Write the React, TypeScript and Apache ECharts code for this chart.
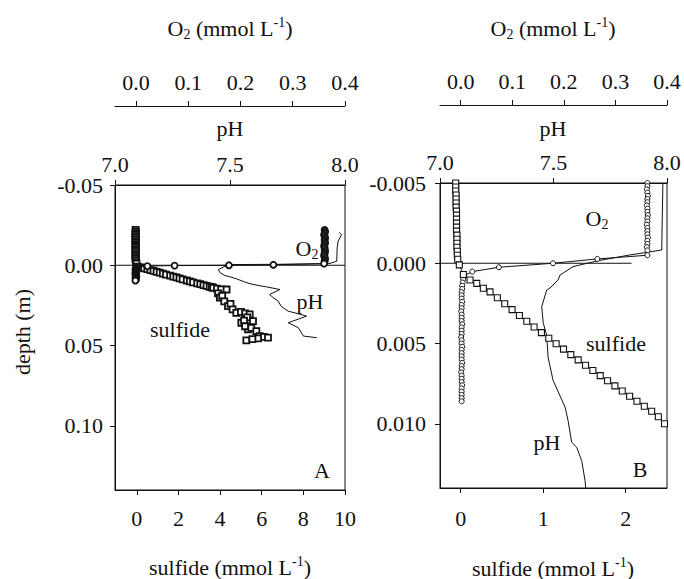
import React, { useEffect, useRef } from 'react';
import * as echarts from 'echarts';

const FONT = 'Liberation Serif';

// ---------- tick values ----------
const sulfideTicksA = [0, 2, 4, 6, 8, 10];
const sulfideTicksB = [0, 1, 2];
const phTicks = [7.0, 7.5, 8.0];
const o2Ticks = [0, 0.1, 0.2, 0.3, 0.4];
const depthTicksA = [-0.05, 0, 0.05, 0.1];
const depthTicksB = [-0.005, 0, 0.005, 0.01];

// ---------- Panel A ----------
const interfaceA_sulfide = [-1.05, 10];
const interfaceA_depth = [0, 0];

const o2A_depth = [-0.022, -0.021, -0.02, -0.019, -0.018, -0.017, -0.016, -0.015, -0.014, -0.013, -0.012, -0.011, -0.01, -0.009, -0.008, -0.007, -0.006, -0.005, -0.004, -0.003, -0.002, -0.001,
  -0.0003, 0.0, 0.0002, 0.0005,
  0.001, 0.0015, 0.002, 0.0025, 0.003, 0.0035, 0.004, 0.0045, 0.005, 0.0055, 0.006, 0.0065, 0.007, 0.0075, 0.008, 0.0085, 0.009, 0.0095];
const o2A_value = [0.361, 0.362, 0.361, 0.36, 0.361, 0.362, 0.361, 0.361, 0.362, 0.361, 0.36, 0.361, 0.361, 0.362, 0.361, 0.361, 0.36, 0.361, 0.362, 0.361, 0.361, 0.36,
  0.263, 0.178, 0.074, 0.022,
  0.003, 0.001, 0.0, -0.001, 0.0, 0.001, 0.0, -0.001, 0.0, 0.0, -0.001, 0.0, 0.001, 0.0, -0.001, 0.0, 0.0, -0.001];

const sulfideA_value = [-0.06, -0.05, -0.07, -0.06, -0.05, -0.06, -0.07, -0.06, -0.05, -0.06, -0.06, -0.07, -0.05, -0.06, -0.06, -0.05, -0.07, -0.06, -0.06, -0.05, -0.04, -0.02,
  0.05, 0.2, 0.35, 0.5, 0.65, 0.8, 0.95, 1.1, 1.25, 1.4, 1.6, 1.75, 1.9, 2.05, 2.2, 2.4, 2.55, 2.7, 2.9, 3.05, 3.2, 3.35, 3.5, 3.6,
  3.67, 3.85, 4.05, 4.31, 3.9, 3.99, 4.1, 4.2, 4.38, 4.5, 4.6, 4.78, 5.0, 5.2, 5.42, 5.3, 5.02, 5.15, 5.58, 5.34, 5.2, 5.5, 5.74, 5.9, 6.1, 6.3, 5.82, 5.26, 5.55];
const sulfideA_depth = [-0.022, -0.021, -0.02, -0.019, -0.018, -0.017, -0.016, -0.015, -0.014, -0.013, -0.012, -0.011, -0.01, -0.009, -0.008, -0.007, -0.006, -0.005, -0.004, -0.003, -0.002, -0.001,
  0.0008, 0.0013, 0.0019, 0.0024, 0.003, 0.0035, 0.0041, 0.0046, 0.0052, 0.0058, 0.0065, 0.0071, 0.0076, 0.0082, 0.0088, 0.0095, 0.01, 0.0106, 0.0113, 0.0118, 0.0124, 0.0129, 0.0134, 0.0137,
  0.014, 0.0145, 0.015, 0.0151, 0.0175, 0.0202, 0.019, 0.0225, 0.0255, 0.024, 0.0275, 0.0296, 0.029, 0.03, 0.0306, 0.0325, 0.0358, 0.0345, 0.0348, 0.0399, 0.038, 0.039, 0.041, 0.0441, 0.0446, 0.0451, 0.0455, 0.0468, 0.046];

const phA_value = [7.975, 7.985, 7.97, 7.966, 7.964, 7.93, 7.7, 7.493, 7.449, 7.458, 7.478, 7.5, 7.529, 7.56, 7.587, 7.63, 7.66, 7.717, 7.672, 7.688, 7.71, 7.722, 7.753, 7.797, 7.833, 7.753, 7.797, 7.819, 7.877];
const phA_depth = [-0.0205, -0.019, -0.015, -0.0108, -0.0025, -0.001, -0.0006, -0.0004, 0.0027, 0.0048, 0.0064, 0.0072, 0.0085, 0.0102, 0.0115, 0.0128, 0.0135, 0.0151, 0.0182, 0.0202, 0.0224, 0.0255, 0.0286, 0.0302, 0.0317, 0.0358, 0.0389, 0.0441, 0.0451];

// ---------- Panel B ----------
const interfaceB_sulfide = [-0.41, 2.07];
const interfaceB_depth = [0, 0];

const o2B_depth = [-0.005, -0.0048, -0.0046, -0.0044, -0.0042, -0.004, -0.0038, -0.0036, -0.0034, -0.0032, -0.003, -0.0028, -0.0026, -0.0024, -0.0022, -0.002, -0.0018, -0.0016, -0.0014, -0.0012, -0.001, -0.0008, -0.0005,
  -0.00027, 0.0, 0.00025, 0.00052,
  0.0008, 0.001, 0.0012, 0.0014, 0.0016, 0.0018, 0.002, 0.0022, 0.0024, 0.0026, 0.0028, 0.003, 0.0032, 0.0034, 0.0036, 0.0038, 0.004, 0.0042, 0.0044, 0.0046, 0.0048, 0.005, 0.0052, 0.0054, 0.0056, 0.0058, 0.006, 0.0062, 0.0064, 0.0066, 0.0068, 0.007, 0.0072, 0.0074, 0.0076, 0.0078, 0.008, 0.0082, 0.0084, 0.0086];
const o2B_value = [0.362, 0.362, 0.361, 0.362, 0.363, 0.362, 0.362, 0.361, 0.362, 0.362, 0.363, 0.362, 0.362, 0.361, 0.362, 0.362, 0.362, 0.363, 0.362, 0.362, 0.361, 0.362, 0.362,
  0.265, 0.179, 0.074, 0.0226,
  0.006, 0.005, 0.004, 0.003, 0.003, 0.002, 0.002, 0.002, 0.003, 0.002, 0.002, 0.001, 0.002, 0.002, 0.002, 0.003, 0.002, 0.002, 0.002, 0.001, 0.002, 0.002, 0.003, 0.002, 0.002, 0.002, 0.002, 0.003, 0.002, 0.002, 0.001, 0.002, 0.002, 0.002, 0.003, 0.002, 0.002, 0.002, 0.002, 0.002];

const sulfideB_value = [-0.06, -0.06, -0.06, -0.055, -0.055, -0.055, -0.055, -0.05, -0.05, -0.05, -0.05, -0.05, -0.05, -0.045, -0.045, -0.045, -0.045, -0.04, -0.04, -0.035,
  -0.016, 0.033, 0.114, 0.195, 0.275, 0.356,
  0.445, 0.534, 0.623, 0.712, 0.801, 0.89, 0.979, 1.068, 1.157, 1.246, 1.335, 1.424, 1.513, 1.602, 1.691, 1.78, 1.869, 1.958, 2.047, 2.136, 2.225, 2.314, 2.395, 2.47];
const sulfideB_depth = [-0.005, -0.00475, -0.0045, -0.00425, -0.004, -0.00375, -0.0035, -0.00325, -0.003, -0.00275, -0.0025, -0.00225, -0.002, -0.00175, -0.0015, -0.00125, -0.001, -0.00075, -0.0005, -0.00025,
  0.0001, 0.0007, 0.00104, 0.00125, 0.00156, 0.00178,
  0.00215, 0.00252, 0.00289, 0.00325, 0.00361, 0.00397, 0.00432, 0.00467, 0.00501, 0.00535, 0.00569, 0.00602, 0.00635, 0.00668, 0.007, 0.00732, 0.00764, 0.00796, 0.00828, 0.0086, 0.00891, 0.00922, 0.00956, 0.01];

const phB_value = [7.982, 7.98, 7.978, 7.977, 7.925, 7.837, 7.69, 7.586, 7.529, 7.52, 7.485, 7.47, 7.448, 7.455, 7.47, 7.476, 7.498, 7.551, 7.564, 7.58, 7.602, 7.624, 7.639, 7.642];
const phB_depth = [-0.005, -0.0035, -0.002, -0.00083, -0.00071, -0.00052, -0.00014, 0.00021, 0.00073, 0.00104, 0.00154, 0.00167, 0.00271, 0.00373, 0.00448, 0.00584, 0.00729, 0.00896, 0.00979, 0.01115, 0.01146, 0.01229, 0.01354, 0.01404];

const zip = (xs: number[], ys: number[]) => xs.map((x, i) => [x, ys[i]]);

const BLACK = '#111';

const baseAxis = (o: any) => ({
  type: 'value',
  axisLine: { show: true, onZero: false, lineStyle: { color: BLACK, width: 1 } },
  axisTick: { show: true, inside: false, length: 5, lineStyle: { color: BLACK, width: 1 }, customValues: o.ticks },
  axisLabel: {
    show: true, color: BLACK, fontFamily: FONT, fontSize: 22, margin: o.margin,
    customValues: o.ticks, formatter: o.fmt,
  },
  splitLine: { show: false },
  ...o.extra,
});

const rich = {
  n: { fontFamily: FONT, fontSize: 22, color: BLACK, lineHeight: 26 },
  sub: { fontFamily: FONT, fontSize: 14, color: BLACK, verticalAlign: 'bottom', lineHeight: 14 },
  sup: { fontFamily: FONT, fontSize: 14, color: BLACK, verticalAlign: 'top', lineHeight: 14 },
};

const txt = (x: number, y: number, text: string, extra: any = {}) => ({
  type: 'text',
  x, y, z: 100,
  ...extra,
  style: {
    text,
    rich,
    fontFamily: FONT,
    fontSize: 22,
    fill: BLACK,
    align: 'center', verticalAlign: 'middle',
    textAlign: 'center', textVerticalAlign: 'middle',
  },
});

const O2_TITLE = '{n|O}{sub|2}{n| (mmol L}{sup|-1}{n|)}';
const SULF_TITLE = '{n|sulfide (mmol L}{sup|-1}{n|)}';
const O2_LABEL = '{n|O}{sub|2}';

const lineSeries = (xi: number, yi: number, data: number[][], extra: any = {}) => ({
  type: 'line', xAxisIndex: xi, yAxisIndex: yi, data,
  symbol: 'none', lineStyle: { color: BLACK, width: 1 }, silent: true,
  ...extra,
});

const option: any = {
  animation: false,
  backgroundColor: '#fff',
  grid: [
    { left: 115, top: 185, width: 230, height: 305, show: true, borderColor: BLACK, borderWidth: 1, backgroundColor: 'transparent' },
    { left: 440, top: 183, width: 227, height: 305, show: true, borderColor: BLACK, borderWidth: 1, backgroundColor: 'transparent' },
  ],
  xAxis: [
    baseAxis({ ticks: sulfideTicksA, margin: 17, fmt: (v: number) => String(v), extra: { gridIndex: 0, position: 'bottom', min: -1.05, max: 10 } }),
    baseAxis({ ticks: phTicks, margin: 10, fmt: (v: number) => v.toFixed(1), extra: { gridIndex: 0, position: 'top', min: 7, max: 8 } }),
    baseAxis({ ticks: o2Ticks, margin: 13, fmt: (v: number) => v.toFixed(1), extra: { gridIndex: 0, position: 'top', offset: 79, min: -0.04, max: 0.4 } }),
    baseAxis({ ticks: sulfideTicksB, margin: 19, fmt: (v: number) => String(v), extra: { gridIndex: 1, position: 'bottom', min: -0.25, max: 2.5 } }),
    baseAxis({ ticks: phTicks, margin: 10, fmt: (v: number) => v.toFixed(1), extra: { gridIndex: 1, position: 'top', min: 7, max: 8 } }),
    baseAxis({ ticks: o2Ticks, margin: 13, fmt: (v: number) => v.toFixed(1), extra: { gridIndex: 1, position: 'top', offset: 78, min: -0.04, max: 0.4 } }),
  ],
  yAxis: [
    baseAxis({ ticks: depthTicksA, margin: 12, fmt: (v: number) => v.toFixed(2), extra: { gridIndex: 0, position: 'left', inverse: true, min: -0.05, max: 0.14 } }),
    baseAxis({ ticks: depthTicksB, margin: 14, fmt: (v: number) => v.toFixed(3), extra: { gridIndex: 1, position: 'left', inverse: true, min: -0.005, max: 0.014 } }),
  ],
  series: [
    // Panel A
    lineSeries(0, 0, zip(interfaceA_sulfide, interfaceA_depth)),
    lineSeries(1, 0, zip(phA_value, phA_depth)),
    {
      type: 'scatter', xAxisIndex: 0, yAxisIndex: 0, data: zip(sulfideA_value, sulfideA_depth),
      symbol: 'rect', symbolSize: 6, silent: true,
      itemStyle: { color: '#fff', borderColor: BLACK, borderWidth: 1.8, opacity: 1 },
    },
    lineSeries(2, 0, zip(o2A_value, o2A_depth), {
      symbol: 'circle', symbolSize: 6, showSymbol: true,
      itemStyle: { color: '#fff', borderColor: BLACK, borderWidth: 1.8 },
    }),
    // Panel B
    lineSeries(3, 1, zip(interfaceB_sulfide, interfaceB_depth), { clip: false }),
    lineSeries(4, 1, zip(phB_value, phB_depth)),
    lineSeries(5, 1, zip(o2B_value, o2B_depth), {
      symbol: 'circle', symbolSize: 5, showSymbol: true,
      itemStyle: { color: '#fff', borderColor: BLACK, borderWidth: 1 },
    }),
    lineSeries(3, 1, zip(sulfideB_value, sulfideB_depth), {
      symbol: 'rect', symbolSize: 6, showSymbol: true,
      itemStyle: { color: '#fff', borderColor: BLACK, borderWidth: 1.1 },
    }),
  ],
  graphic: [
    txt(230, 28, O2_TITLE),
    txt(553, 28, O2_TITLE),
    txt(230, 128, 'pH'),
    txt(553, 128, 'pH'),
    txt(230, 567, SULF_TITLE),
    txt(553, 568, SULF_TITLE),
    txt(22, 332, 'depth (m)', { rotation: Math.PI / 2 }),
    txt(307, 248, O2_LABEL),
    txt(310, 301, 'pH'),
    txt(180, 329, 'sulfide'),
    txt(322, 470, 'A'),
    txt(597, 218, O2_LABEL),
    txt(616, 343, 'sulfide'),
    txt(547, 442, 'pH'),
    txt(640, 469, 'B'),
  ],
};

export default function App() {
  const ref = useRef<HTMLDivElement>(null);
  useEffect(() => {
    const chart = echarts.init(ref.current!, null, { renderer: 'svg' });
    chart.setOption(option);
    return () => chart.dispose();
  }, []);
  return (
    <div
      ref={ref}
      style={{ position: 'absolute', left: 0, top: 0, width: 684, height: 579, background: '#fff' }}
    />
  );
}
